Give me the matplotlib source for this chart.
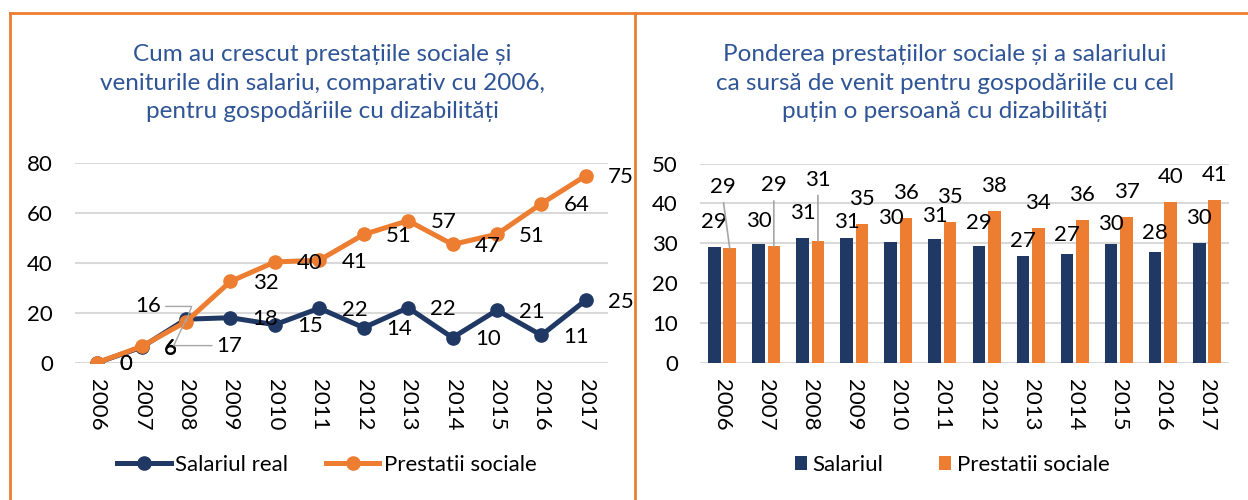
import matplotlib
matplotlib.use('Agg')
import matplotlib.pyplot as plt
import matplotlib.lines as lines
import numpy as np

plt.rcParams['font.family'] = ['Lato', 'Noto Sans', 'DejaVu Sans']

# --- date ---
years = ['2006', '2007', '2008', '2009', '2010', '2011',
         '2012', '2013', '2014', '2015', '2016', '2017']

# grafic stanga: crestere fata de 2006
salariul_real = [0, 6.2, 17.4, 18.0, 15.2, 21.8, 14.0, 22.0, 10.0, 21.0, 11.0, 25.0]
prestatii_crestere = [0, 6.5, 16.4, 32.5, 40.3, 41.0, 51.3, 56.8, 47.3, 51.4, 63.6, 74.8]

# grafic dreapta: ponderea in venit
pondere_salariul = [29.1, 29.7, 31.3, 31.4, 30.4, 31.0, 29.2, 26.8, 27.3, 29.7, 27.8, 30.0]
pondere_prestatii = [28.7, 29.2, 30.6, 34.8, 36.3, 35.3, 38.1, 33.8, 35.9, 36.6, 40.3, 41.0]

title_left = 'Cum au crescut prestațiile sociale și\nveniturile din salariu, comparativ cu 2006,\npentru gospodăriile cu dizabilități'
title_right = 'Ponderea prestațiilor sociale și a salariului\nca sursă de venit pentru gospodăriile cu cel\npuțin o persoană cu dizabilități'

navy = '#203864'
orange = '#ED7D31'
grid_c = '#D9D9D9'
title_c = '#2F5597'
leader_c = '#A6A6A6'
fs = 16

# cat de sus stau etichetele barelor bleumarin (puncte)
dy_salariul = [18, 17, 18, 11, 17, 17, 17, 11, 14, 15, 14, 18]

fig = plt.figure(figsize=(12.48, 5), dpi=100, facecolor='white')

# --- chenare portocalii ---
for xs, ys in [([10/1248, 1.0], [1 - 13/500, 1 - 13/500]),
               ([10/1248, 10/1248], [0, 1 - 13/500]),
               ([635/1248, 635/1248], [0, 1 - 13/500])]:
    fig.lines.append(lines.Line2D(xs, ys, transform=fig.transFigure, figure=fig,
                                  color=orange, lw=2))


def style_axes(ax, ymax, step):
    ax.set_ylim(0, ymax)
    ax.set_yticks(np.arange(0, ymax + 1, step))
    ax.set_xlim(-0.5, len(years) - 0.5)
    ax.set_xticks(range(len(years)))
    ax.set_xticklabels(years, rotation=270)
    for s in ax.spines.values():
        s.set_visible(False)
    ax.grid(axis='y', color=grid_c, lw=1.5)
    ax.set_axisbelow(True)
    ax.tick_params(axis='y', length=0, pad=16, labelsize=fs)
    ax.tick_params(axis='x', length=0, pad=12, labelsize=fs)


# --- stanga: linii ---
ax1 = fig.add_axes([75/1248, 0.2746, 533/1248, 0.4])
x = np.arange(len(years))
ax1.plot(x, salariul_real, color=navy, lw=3.6, marker='o', ms=9.5,
         label='Salariul real', zorder=3)
ax1.plot(x, prestatii_crestere, color=orange, lw=3.6, marker='o', ms=9.5,
         label='Prestatii sociale', zorder=4)
style_axes(ax1, 80, 20)

for i, (b, o) in enumerate(zip(salariul_real, prestatii_crestere)):
    if i == 2:
        continue
    ax1.annotate(f'{round(b)}', (i, b), xytext=(16, -1), textcoords='offset points',
                 ha='left', va='center', fontsize=fs, zorder=5)
    ax1.annotate(f'{round(o)}', (i, o), xytext=(16, -1), textcoords='offset points',
                 ha='left', va='center', fontsize=fs, zorder=5)

# etichete cu linie de legatura pentru 2008
ax1.annotate(f'{round(prestatii_crestere[2])}', (2, prestatii_crestere[2]),
             xytext=(-27, 11), textcoords='offset points', ha='center', va='center',
             fontsize=fs, zorder=5,
             arrowprops=dict(arrowstyle='-', color=leader_c, lw=1, relpos=(1, 0.5),
                             shrinkA=1, shrinkB=0,
                             connectionstyle='angle,angleA=0,angleB=70,rad=0'))
ax1.annotate(f'{round(salariul_real[2])}', (2, salariul_real[2]),
             xytext=(31, -19), textcoords='offset points', ha='center', va='center',
             fontsize=fs, zorder=5,
             arrowprops=dict(arrowstyle='-', color=leader_c, lw=1, relpos=(0, 0.5),
                             shrinkA=1, shrinkB=0,
                             connectionstyle='angle,angleA=180,angleB=-115,rad=0'))

fig.text(322/1248, 1 - 83/500, title_left, color=title_c, fontsize=17.5,
         linespacing=1.42, ha='center', va='center', multialignment='center')
ax1.legend(loc='center', bbox_to_anchor=(327/1248, 1 - 465/500), bbox_transform=fig.transFigure,
           ncol=2, frameon=False, fontsize=fs, handlelength=2.4, columnspacing=1.7,
           handletextpad=0.2)

# --- dreapta: bare ---
ax2 = fig.add_axes([700/1248, 0.2746, 529/1248, 0.398])
w = 0.285
off = 0.175
ax2.bar(x - off, pondere_salariul, width=w, color=navy, label='Salariul', zorder=3)
ax2.bar(x + off, pondere_prestatii, width=w, color=orange, label='Prestatii sociale', zorder=3)
style_axes(ax2, 50, 10)

for i, (s, p) in enumerate(zip(pondere_salariul, pondere_prestatii)):
    ax2.annotate(f'{round(s)}', (i - off, s), xytext=(0, dy_salariul[i]),
                 textcoords='offset points', ha='center', va='center', fontsize=fs, zorder=5)
    if i < 3:
        ax2.annotate(f'{round(p)}', (i + off, p), xytext=(-5 if i == 0 else 0, 44),
                     textcoords='offset points', ha='center', va='center', fontsize=fs,
                     zorder=5,
                     arrowprops=dict(arrowstyle='-', color=leader_c, lw=1.2,
                                     relpos=(0.5, 0), shrinkA=2, shrinkB=0))
    else:
        ax2.annotate(f'{round(p)}', (i + off, p), xytext=(0, 18), textcoords='offset points',
                     ha='center', va='center', fontsize=fs, zorder=5)

fig.text(945/1248, 1 - 83/500, title_right, color=title_c, fontsize=17.5,
         linespacing=1.42, ha='center', va='center', multialignment='center')
ax2.legend(loc='center', bbox_to_anchor=(952/1248, 1 - 465/500), bbox_transform=fig.transFigure,
           ncol=2, frameon=False, fontsize=fs, handlelength=0.55, handleheight=0.55,
           columnspacing=2.5, handletextpad=0.25)

fig.savefig('out.png', dpi=100, facecolor='white')
